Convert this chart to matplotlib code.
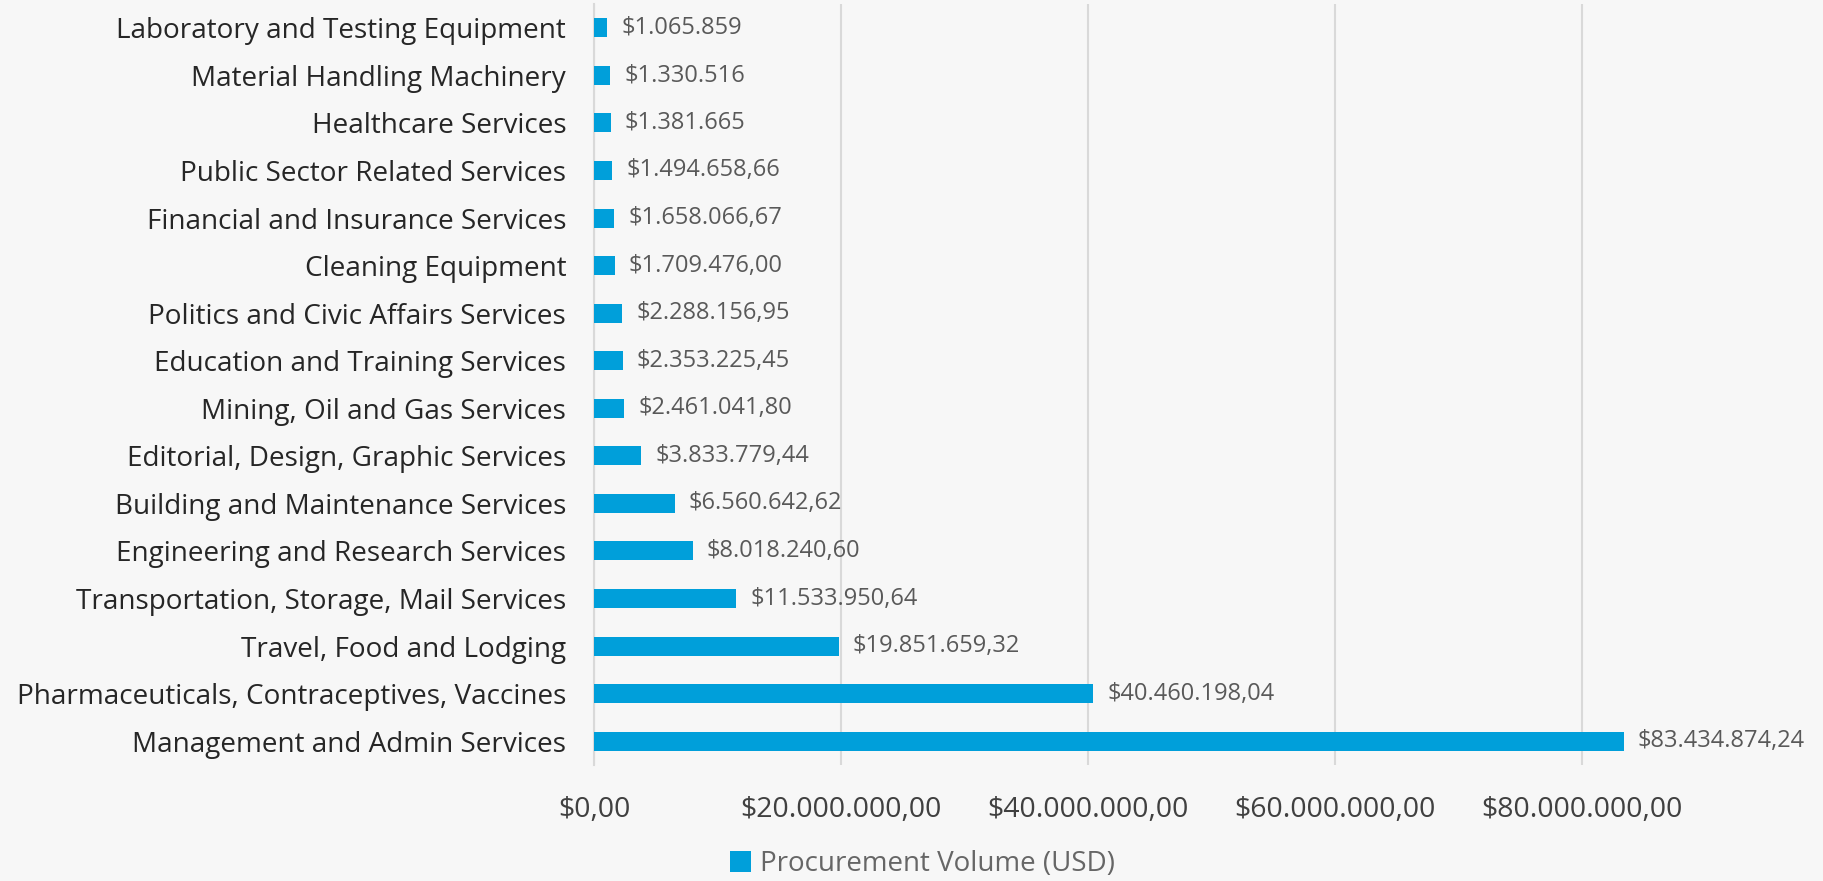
import matplotlib.pyplot as plt
from matplotlib.ticker import FuncFormatter
from matplotlib.patches import Patch

# categories, top to bottom as in the chart
categories = [
    "Laboratory and Testing Equipment",
    "Material Handling Machinery",
    "Healthcare Services",
    "Public Sector Related Services",
    "Financial and Insurance Services",
    "Cleaning Equipment",
    "Politics and Civic Affairs Services",
    "Education and Training Services",
    "Mining, Oil and Gas Services",
    "Editorial, Design, Graphic Services",
    "Building and Maintenance Services",
    "Engineering and Research Services",
    "Transportation, Storage, Mail Services",
    "Travel, Food and Lodging",
    "Pharmaceuticals, Contraceptives, Vaccines",
    "Management and Admin Services",
]
volumes = [
    1065859, 1330516, 1381665, 1494658.66, 1658066.67, 1709476.00,
    2288156.95, 2353225.45, 2461041.80, 3833779.44, 6560642.62,
    8018240.60, 11533950.64, 19851659.32, 40460198.04, 83434874.24,
]
value_labels = [
    "$1.065.859", "$1.330.516", "$1.381.665", "$1.494.658,66",
    "$1.658.066,67", "$1.709.476,00", "$2.288.156,95", "$2.353.225,45",
    "$2.461.041,80", "$3.833.779,44", "$6.560.642,62", "$8.018.240,60",
    "$11.533.950,64", "$19.851.659,32", "$40.460.198,04", "$83.434.874,24",
]
x_ticks = [0, 20e6, 40e6, 60e6, 80e6]
series_name = "Procurement Volume (USD)"

bg = "#f7f7f7"
bar_color = "#009fda"
grid_color = "#d9d9d9"

plt.rcParams["font.family"] = ["Open Sans", "DejaVu Sans"]

fig = plt.figure(figsize=(18.23, 8.81), dpi=100, facecolor=bg)
ax = fig.add_axes([594 / 1823, 1 - 765 / 881, (1705 - 594) / 1823, (765 - 4) / 881])
ax.set_facecolor(bg)

ypos = list(range(len(categories)))
ax.barh(ypos, volumes, height=0.4, color=bar_color, zorder=3)

for y, v, lab in zip(ypos, volumes, value_labels):
    ax.annotate(lab, (v, y), xytext=(10, 0), textcoords="offset points",
                va="center", ha="left", fontsize=17, color="#595959")

ax.set_ylim(len(categories) - 0.5, -0.5)
ax.set_yticks(ypos)
ax.set_yticklabels(categories, fontsize=20.1, color="#262626")

def money(x, pos):
    s = f"{x:,.2f}"
    s = s.replace(",", "X").replace(".", ",").replace("X", ".")
    return "$" + s

ax.set_xlim(0, 90e6)
ax.set_xticks(x_ticks)
ax.xaxis.set_major_formatter(FuncFormatter(money))
ax.tick_params(axis="x", labelsize=20.5, labelcolor="#404040", length=0, pad=22)
ax.tick_params(axis="y", length=0, pad=20)

ax.grid(axis="x", color=grid_color, linewidth=1.5, zorder=0)
for side in ["top", "right", "bottom"]:
    ax.spines[side].set_visible(False)
ax.spines["left"].set_color(grid_color)
ax.spines["left"].set_linewidth(1.5)

handle = Patch(facecolor=bar_color, edgecolor="none")
fig.legend([handle], [series_name], loc="center", bbox_to_anchor=(0.506, 0.019),
           frameon=False, fontsize=20, labelcolor="#666666",
           handlelength=0.75, handleheight=0.75, handletextpad=0.3)

fig.savefig("out.png", dpi=100, facecolor=bg)
